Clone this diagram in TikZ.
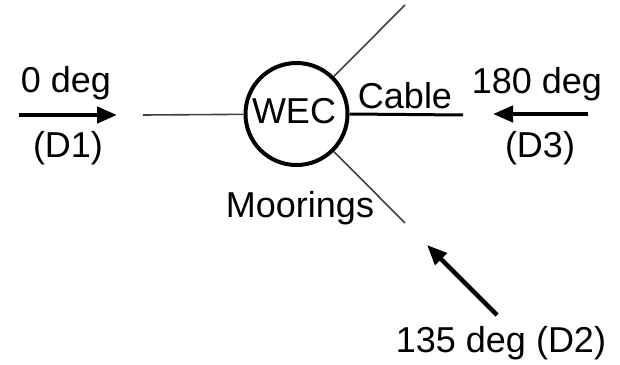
\documentclass[tikz,border=0pt]{standalone}
\usepackage{fontspec}
\setmainfont{Liberation Sans}
\usetikzlibrary{arrows.meta}
\begin{document}
\begin{tikzpicture}[x=1pt,y=-1pt,
  lbl/.style={anchor=base,inner sep=0pt,font=\fontsize{36}{43}\selectfont},
  mooring/.style={draw=black!75,line width=1.6pt},
  cableline/.style={draw=black,line width=3pt},
  wave/.style={draw=black,line width=4.5pt,-{Triangle[length=20pt,width=16pt]}}]
\useasboundingbox (0,0) rectangle (620,364);
\node[circle,draw,line width=4pt,minimum size=102pt,inner sep=0pt] (wec) at (296.5,114) {};
\node[lbl] (weclbl) at (294,123) {WEC};
\coordinate (mL) at (143,115);
\coordinate (mU) at (405,5);
\coordinate (mD) at (405,223);
\coordinate (cE) at (463,115);
\draw[mooring] (wec) -- (mL);
\draw[mooring] (wec) -- (mU);
\draw[mooring] (wec) -- (mD);
\draw[cableline] (wec.east) -- (cE);
\node[lbl] (cable) at (405,108) {Cable};
\node[lbl] (moor) at (300,217) {Moorings};
% D1
\coordinate (a1s) at (19,115);
\coordinate (a1e) at (117,115);
\draw[wave] (a1s) -- (a1e);
\node[lbl] (t1) at (66,92) {0 deg};
\node[lbl] (t1b) at (68,157) {(D1)};
% D3
\coordinate (a3s) at (588,114);
\coordinate (a3e) at (493,114);
\draw[wave] (a3s) -- (a3e);
\node[lbl] (t3) at (537,93) {180 deg};
\node[lbl] (t3b) at (540,157) {(D3)};
% D2
\coordinate (a2s) at (497,315);
\coordinate (a2e) at (427,245);
\draw[wave] (a2s) -- (a2e);
\node[lbl] (t2) at (501,352) {135 deg (D2)};
\end{tikzpicture}
\end{document}
